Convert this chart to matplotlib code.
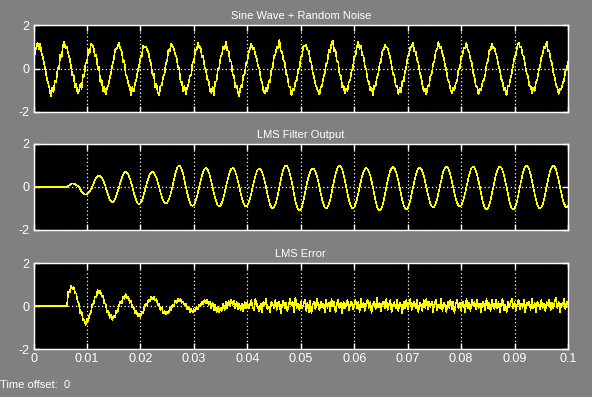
import matplotlib

matplotlib.use("Agg")
import matplotlib.pyplot as plt
import numpy as np

# time axis: 0 .. 0.1 s, one sample every 0.25 ms
t_start, t_stop, n_samples = 0.0, 0.1, 401

titles = ["Sine Wave + Random Noise", "LMS Filter Output", "LMS Error"]
x_ticks = [0, 0.01, 0.02, 0.03, 0.04, 0.05, 0.06, 0.07, 0.08, 0.09, 0.1]
x_tick_labels = ["0", "0.01", "0.02", "0.03", "0.04", "0.05",
                 "0.06", "0.07", "0.08", "0.09", "0.1"]
y_ticks = [-2, 0, 2]
y_tick_labels = ["-2", "0", "2"]
time_offset = "0"

noisy_sine = [
    -0.08, 0.70, 0.95, 1.20, 0.90, 1.15, 0.70, 0.52, 0.18, -0.08,
    -0.48, -0.65, -0.95, -1.28, -0.88, -1.10, -0.55, -0.65, 0.02, -0.05,
    0.62, 0.50, 1.05, 1.22, 0.92, 0.98, 0.68, 0.48, 0.12, -0.30,
    -0.28, -0.88, -0.70, -1.15, -1.05, -0.72, -0.95, -0.30, -0.35, 0.28,
    0.25, 0.88, 0.72, 1.15, 1.08, 0.95, 0.55, 0.65, -0.02, 0.08,
    -0.62, -0.52, -1.05, -0.82, -1.20, -0.92, -0.78, -0.45, -0.20, 0.15,
    0.42, 0.85, 0.90, 1.02, 1.18, 0.88, 0.80, 0.30, 0.35, -0.28,
    -0.38, -0.72, -0.85, -1.22, -0.85, -1.05, -0.68, -0.48, -0.12, 0.12,
    0.52, 0.55, 1.05, 1.00, 1.02, 0.85, 0.75, 0.40, 0.22, -0.30,
    -0.25, -0.85, -0.72, -1.12, -1.25, -0.78, -0.78, -0.40, -0.25, 0.20,
    0.38, 0.88, 0.78, 1.12, 1.05, 0.90, 0.65, 0.52, 0.10, 0.02,
    -0.60, -0.62, -1.05, -0.80, -1.18, -0.88, -0.72, -0.35, -0.32, 0.28,
    0.30, 0.85, 0.82, 1.20, 0.95, 0.98, 0.52, 0.60, 0.05, -0.05,
    -0.52, -0.55, -1.00, -1.12, -0.85, -1.22, -0.60, -0.58, 0.00, 0.02,
    0.55, 0.65, 1.00, 0.88, 1.25, 0.85, 0.80, 0.35, 0.32, -0.28,
    -0.35, -0.88, -0.78, -1.10, -1.28, -0.80, -0.85, -0.32, -0.28, 0.25,
    0.32, 0.75, 0.90, 1.15, 0.90, 0.95, 0.65, 0.48, 0.10, -0.02,
    -0.48, -0.62, -1.02, -1.15, -0.88, -1.05, -0.58, -0.62, -0.05, 0.05,
    0.60, 0.62, 0.98, 0.95, 1.32, 0.82, 0.75, 0.40, 0.28, -0.25,
    -0.32, -0.82, -0.82, -1.25, -0.95, -0.98, -0.62, -0.55, -0.12, 0.00,
    0.52, 0.60, 1.05, 1.02, 1.08, 0.85, 0.80, 0.35, 0.25, -0.20,
    -0.40, -0.75, -0.90, -1.05, -1.20, -0.85, -0.78, -0.40, -0.22, 0.22,
    0.30, 0.85, 0.75, 1.15, 1.28, 0.80, 0.85, 0.32, 0.30, -0.30,
    -0.32, -0.85, -0.78, -1.15, -0.92, -1.05, -0.60, -0.55, -0.10, 0.02,
    0.55, 0.58, 1.02, 1.22, 0.88, 1.05, 0.60, 0.58, 0.05, -0.02,
    -0.55, -0.62, -1.00, -0.90, -1.22, -0.78, -0.82, -0.40, -0.25, 0.20,
    0.32, 0.80, 0.88, 1.08, 0.98, 0.95, 0.70, 0.48, 0.12, -0.25,
    -0.30, -0.80, -0.80, -1.18, -0.88, -1.10, -0.58, -0.60, -0.12, 0.08,
    0.58, 0.62, 0.98, 1.00, 1.20, 0.78, 0.78, 0.40, 0.28, -0.20,
    -0.38, -0.75, -1.05, -0.92, -1.20, -0.80, -0.80, -0.35, -0.25, 0.18,
    0.35, 0.80, 0.88, 1.25, 0.92, 0.98, 0.65, 0.52, 0.15, -0.10,
    -0.50, -0.62, -0.95, -1.15, -0.90, -1.00, -0.68, -0.55, -0.05, 0.00,
    0.55, 0.60, 0.95, 0.95, 1.18, 0.85, 0.75, 0.42, 0.25, -0.20,
    -0.38, -0.82, -0.82, -1.20, -0.92, -0.98, -0.62, -0.52, -0.30, 0.20,
    0.32, 0.82, 0.85, 1.12, 0.92, 0.95, 0.68, 0.50, 0.10, -0.08,
    -0.48, -0.60, -1.02, -0.90, -1.25, -0.78, -0.80, -0.42, -0.22, 0.18,
    0.52, 0.62, 1.02, 1.20, 0.98, 0.98, 0.62, 0.55, 0.12, -0.20,
    -0.35, -0.80, -0.80, -1.12, -0.88, -1.05, -0.60, -0.52, -0.10, 0.08,
    0.50, 0.65, 0.98, 0.92, 1.25, 0.80, 0.80, 0.38, 0.25, -0.22,
    -0.38, -0.78, -0.85, -1.18, -0.95, -0.95, -0.68, -0.55, -0.12, -0.02,
    0.30,
]

filter_output = [
    0, 0, 0, 0, 0, 0, 0, 0, 0, 0,
    0, 0, 0, 0, 0, 0, 0, 0, 0, 0,
    0, 0, 0, 0, 0, 0, 0.05, 0.09, 0.13, 0.16,
    0.15, 0.13, 0.09, 0.05, 0.00, -0.11, -0.21, -0.28, -0.33, -0.35,
    -0.33, -0.28, -0.21, -0.11, 0.00, 0.17, 0.32, 0.44, 0.51, 0.54,
    0.51, 0.44, 0.32, 0.17, 0.00, -0.22, -0.41, -0.57, -0.67, -0.70,
    -0.67, -0.57, -0.41, -0.22, 0.00, 0.22, 0.41, 0.57, 0.67, 0.70,
    0.67, 0.57, 0.41, 0.22, 0.00, -0.25, -0.47, -0.65, -0.76, -0.80,
    -0.76, -0.65, -0.47, -0.25, 0.00, 0.22, 0.41, 0.57, 0.67, 0.70,
    0.67, 0.57, 0.41, 0.22, 0.00, -0.24, -0.45, -0.62, -0.73, -0.77,
    -0.73, -0.62, -0.45, -0.24, 0.00, 0.31, 0.59, 0.81, 0.95, 1.00,
    0.95, 0.81, 0.59, 0.31, 0.00, -0.27, -0.52, -0.71, -0.84, -0.88,
    -0.84, -0.71, -0.52, -0.27, 0.00, 0.27, 0.52, 0.71, 0.84, 0.88,
    0.84, 0.71, 0.52, 0.27, 0.00, -0.28, -0.53, -0.73, -0.86, -0.90,
    -0.86, -0.73, -0.53, -0.28, 0.00, 0.27, 0.52, 0.71, 0.84, 0.88,
    0.84, 0.71, 0.52, 0.27, 0.00, -0.28, -0.53, -0.73, -0.86, -0.90,
    -0.86, -0.73, -0.53, -0.28, 0.00, 0.27, 0.51, 0.70, 0.82, 0.86,
    0.82, 0.70, 0.51, 0.27, 0.00, -0.31, -0.59, -0.81, -0.95, -1.00,
    -0.95, -0.81, -0.59, -0.31, 0.00, 0.31, 0.59, 0.81, 0.95, 1.00,
    0.95, 0.81, 0.59, 0.31, 0.00, -0.34, -0.65, -0.89, -1.05, -1.10,
    -1.05, -0.89, -0.65, -0.34, 0.00, 0.27, 0.51, 0.70, 0.82, 0.86,
    0.82, 0.70, 0.51, 0.27, 0.00, -0.31, -0.59, -0.81, -0.95, -1.00,
    -0.95, -0.81, -0.59, -0.31, 0.00, 0.31, 0.59, 0.81, 0.95, 1.00,
    0.95, 0.81, 0.59, 0.31, 0.00, -0.31, -0.59, -0.81, -0.95, -1.00,
    -0.95, -0.81, -0.59, -0.31, 0.00, 0.27, 0.52, 0.71, 0.84, 0.88,
    0.84, 0.71, 0.52, 0.27, 0.00, -0.34, -0.65, -0.89, -1.05, -1.10,
    -1.05, -0.89, -0.65, -0.34, 0.00, 0.29, 0.55, 0.75, 0.88, 0.93,
    0.88, 0.75, 0.55, 0.29, 0.00, -0.32, -0.62, -0.85, -1.00, -1.05,
    -1.00, -0.85, -0.62, -0.32, 0.00, 0.28, 0.53, 0.73, 0.86, 0.90,
    0.86, 0.73, 0.53, 0.28, 0.00, -0.29, -0.56, -0.77, -0.90, -0.95,
    -0.90, -0.77, -0.56, -0.29, 0.00, 0.29, 0.56, 0.77, 0.90, 0.95,
    0.90, 0.77, 0.56, 0.29, 0.00, -0.28, -0.53, -0.73, -0.86, -0.90,
    -0.86, -0.73, -0.53, -0.28, 0.00, 0.29, 0.56, 0.77, 0.90, 0.95,
    0.90, 0.77, 0.56, 0.29, 0.00, -0.32, -0.62, -0.85, -1.00, -1.05,
    -1.00, -0.85, -0.62, -0.32, 0.00, 0.29, 0.56, 0.77, 0.90, 0.95,
    0.90, 0.77, 0.56, 0.29, 0.00, -0.32, -0.62, -0.85, -1.00, -1.05,
    -1.00, -0.85, -0.62, -0.32, 0.00, 0.31, 0.59, 0.81, 0.95, 1.00,
    0.95, 0.81, 0.59, 0.31, 0.00, -0.31, -0.59, -0.81, -0.95, -1.00,
    -0.95, -0.81, -0.59, -0.31, 0.00, 0.31, 0.59, 0.81, 0.95, 1.00,
    0.95, 0.81, 0.59, 0.31, 0.00, -0.29, -0.56, -0.77, -0.90, -0.95,
    -0.90,
]

lms_error = [
    0, 0, 0, 0, 0, 0, 0, 0, 0, 0,
    0, 0, 0, 0, 0, 0, 0, 0, 0, 0,
    0, 0, 0, 0, 0, 0, 0.68, 0.62, 0.93, 0.80,
    0.90, 0.62, 0.58, 0.22, 0.10, -0.35, -0.26, -0.65, -0.62, -0.88,
    -0.60, -0.70, -0.38, -0.30, 0.08, 0.12, 0.45, 0.40, 0.75, 0.58,
    0.70, 0.45, 0.50, 0.12, 0.10, -0.30, -0.22, -0.55, -0.42, -0.65,
    -0.45, -0.52, -0.20, -0.28, 0.05, 0.22, 0.12, 0.45, 0.32, 0.55,
    0.35, 0.42, 0.15, 0.25, -0.08, -0.05, -0.35, -0.22, -0.48, -0.35,
    -0.52, -0.25, -0.32, -0.05, 0.10, 0.02, 0.30, 0.22, 0.45, 0.30,
    0.42, 0.25, 0.32, 0.05, 0.12, -0.18, -0.08, -0.35, -0.22, -0.40,
    -0.25, -0.35, -0.10, -0.18, 0.08, 0.00, 0.25, 0.15, 0.35, 0.20,
    0.32, 0.15, 0.22, 0.02, 0.10, -0.15, -0.02, -0.28, -0.12, -0.30,
    -0.15, -0.25, -0.05, -0.15, 0.08, -0.02, 0.20, 0.08, 0.28, 0.12,
    0.30, 0.05, 0.22, -0.10, 0.15, -0.18, 0.05, -0.28, -0.02, -0.30,
    -0.08, -0.22, 0.10, -0.18, 0.20, -0.12, 0.25, 0.02, 0.28, 0.05,
    0.25, -0.10, 0.18, -0.15, 0.12, -0.20, 0.10, -0.25, 0.18, -0.12,
    0.18, -0.12, 0.08, 0.28, -0.05, -0.20, 0.32, 0.10, -0.08, -0.25,
    0.12, -0.30, 0.20, 0.05, 0.35, -0.15, -0.02, -0.28, 0.18, 0.08,
    -0.10, 0.30, -0.18, 0.12, 0.22, -0.35, 0.05, 0.25, -0.12, 0.15,
    -0.22, 0.08, 0.32, 0.02, 0.18, -0.28, 0.40, -0.08, 0.12, -0.20,
    0.22, -0.12, 0.05, 0.30, -0.22, 0.15, -0.30, 0.25, -0.32, 0.08,
    0.18, -0.15, 0.35, 0.05, -0.18, 0.22, -0.05, 0.12, -0.28, 0.30,
    -0.08, 0.15, -0.25, 0.32, -0.02, 0.18, -0.30, 0.08, 0.28, -0.12,
    0.15, -0.35, 0.22, -0.10, 0.12, 0.30, -0.18, 0.05, 0.22, -0.15,
    0.08, 0.28, -0.12, 0.18, -0.28, 0.35, -0.05, 0.15, -0.22, 0.12,
    0.30, -0.08, 0.18, -0.32, 0.10, 0.22, -0.15, 0.38, -0.06, 0.15,
    -0.25, 0.12, 0.22, -0.10, 0.32, -0.18, 0.08, 0.28, -0.30, 0.05,
    0.18, -0.12, 0.30, -0.22, 0.15, 0.04, -0.35, 0.22, -0.08, 0.28,
    -0.15, 0.12, 0.32, -0.18, 0.08, 0.22, -0.12, 0.30, -0.28, 0.15,
    0.05, -0.22, 0.28, -0.08, 0.35, -0.15, 0.18, -0.05, 0.22, -0.30,
    0.12, 0.28, -0.18, 0.08, -0.12, 0.32, -0.22, 0.15, 0.04, -0.28,
    0.22, -0.08, 0.30, -0.15, 0.18, -0.32, 0.12, 0.28, -0.10, 0.15,
    -0.18, 0.22, 0.05, -0.28, 0.35, -0.12, 0.15, -0.22, 0.30, 0.02,
    0.18, -0.15, 0.28, -0.08, 0.12, -0.30, 0.22, 0.08, -0.18, 0.32,
    -0.10, 0.15, -0.22, 0.28, 0.05, -0.15, 0.30, -0.12, 0.18, -0.28,
    0.12, 0.32, -0.18, 0.08, -0.30, 0.22, -0.05, 0.15, 0.35, -0.12,
    0.18, -0.22, 0.08, 0.28, -0.15, 0.12, -0.08, 0.30, -0.28, 0.15,
    0.05, 0.22, -0.18, 0.32, -0.10, 0.15, -0.30, 0.18, 0.08, -0.15,
    0.28, -0.08, 0.12, -0.22, 0.18, 0.05, 0.30, -0.18, 0.15, -0.12,
    0.22, 0.38, -0.08, 0.18, -0.28, 0.12, 0.05, 0.32, -0.15, 0.22,
    0.08,
]

BG = "#808080"
FONT = "Liberation Sans"


def style_axes(ax, title, show_x_labels):
    ax.set_facecolor("black")
    ax.set_xlim(t_start, t_stop)
    ax.set_ylim(-2, 2)
    for side in ax.spines.values():
        side.set_color("white")
        side.set_linewidth(1.0)
    ax.set_xticks(x_ticks)
    ax.set_yticks(y_ticks)
    ax.set_yticklabels(y_tick_labels, fontfamily=FONT, fontsize=9)
    if show_x_labels:
        ax.set_xticklabels(x_tick_labels, fontfamily=FONT, fontsize=9)
    else:
        ax.set_xticklabels([])
    ax.tick_params(colors="white", direction="in", length=4, width=1,
                   top=True, right=True, pad=3)
    ax.grid(True, color="white", linestyle=(0, (1, 2)), linewidth=0.9)
    ax.set_title(title, color="white", fontfamily=FONT, fontsize=8, pad=4)


def plot():
    t = np.linspace(t_start, t_stop, n_samples)
    fig = plt.figure(figsize=(5.92, 3.97), dpi=100, facecolor=BG)

    boxes = [
        [0.0566, 0.7179, 0.9029, 0.2191],
        [0.0566, 0.4207, 0.9029, 0.2166],
        [0.0566, 0.1209, 0.9029, 0.2166],
    ]
    series = [noisy_sine, filter_output, lms_error]
    for i, (box, values, title) in enumerate(zip(boxes, series, titles)):
        ax = fig.add_axes(box)
        # thin, non-antialiased trace like the scope window
        ax.plot(t, values, color="#ffff00", linewidth=0.4, antialiased=False)
        style_axes(ax, title, i == 2)

    fig.text(0.0, 0.03, "Time offset:", color="white", fontfamily=FONT,
             fontsize=8, ha="left", va="center")
    fig.text(0.108, 0.03, time_offset, color="white", fontfamily=FONT,
             fontsize=8, ha="left", va="center")

    fig.savefig("out.png", dpi=100, facecolor=BG)


if __name__ == "__main__":
    plot()
